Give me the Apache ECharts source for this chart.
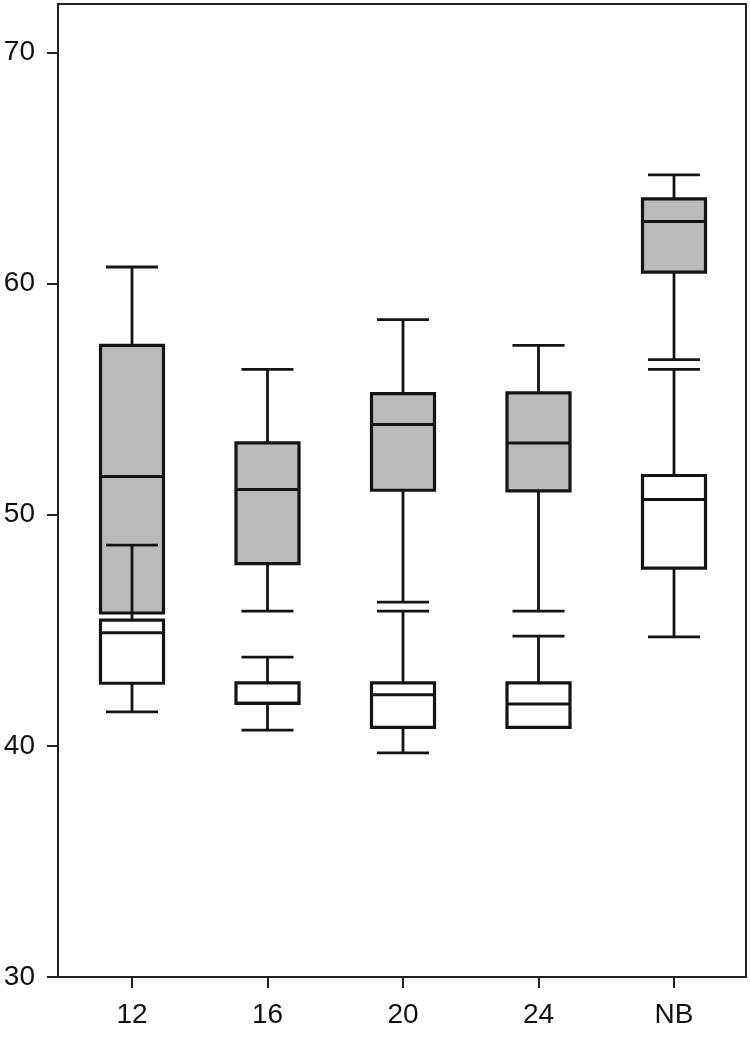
<!DOCTYPE html>
<html>
<head>
<meta charset="utf-8">
<script src="https://cdn.jsdelivr.net/npm/echarts@6/dist/echarts.min.js"></script>
<style>
html,body{margin:0;padding:0;background:#fff;}
#chart{width:750px;height:1063px;}
</style>
</head>
<body>
<div id="chart"></div>
<script>
var categories = ['12', '16', '20', '24', 'NB'];
var yTicks = [30, 40, 50, 60, 70];

// grey (upper) boxes
var greyLow  = [45.75, 45.83, 46.22, 45.83, 56.71];
var greyQ1   = [45.75, 47.89, 51.06, 51.03, 60.50];
var greyMed  = [51.66, 51.09, 53.91, 53.11, 62.69];
var greyQ3   = [57.33, 53.11, 55.24, 55.27, 63.67];
var greyHigh = [60.72, 56.29, 58.44, 57.33, 64.71];

// white (lower) boxes
var whiteLow  = [41.47, 40.68, 39.70, 40.80, 44.72];
var whiteQ1   = [42.71, 41.84, 40.80, 40.80, 47.69];
var whiteMed  = [44.89, 41.84, 42.21, 41.81, 50.66];
var whiteQ3   = [45.44, 42.73, 42.73, 42.73, 51.70];
var whiteHigh = [48.69, 43.84, 45.83, 44.75, 56.29];

function build(low, q1, med, q3, high) {
  return categories.map(function (c, i) {
    return [i, low[i], q1[i], med[i], q3[i], high[i]];
  });
}

var INK = '#141414';
var FONT = 'Liberation Sans';

function makeRender(fill) {
  return function (params, api) {
    var i = api.value(0);
    var band = api.size([1, 0])[0];
    var boxW = band * 0.465;
    var capW = band * 0.384;
    var pLow = api.coord([i, api.value(1)]);
    var pQ1 = api.coord([i, api.value(2)]);
    var pMed = api.coord([i, api.value(3)]);
    var pQ3 = api.coord([i, api.value(4)]);
    var pHigh = api.coord([i, api.value(5)]);
    var x = pMed[0];
    var children = [];
    var wStyle = { stroke: INK, lineWidth: 2.8, lineCap: 'butt' };
    if (api.value(5) > api.value(4)) {
      children.push({ type: 'line', shape: { x1: x, y1: pQ3[1], x2: x, y2: pHigh[1] }, style: wStyle });
      children.push({ type: 'line', shape: { x1: x - capW / 2, y1: pHigh[1], x2: x + capW / 2, y2: pHigh[1] }, style: wStyle });
    }
    if (api.value(1) < api.value(2)) {
      children.push({ type: 'line', shape: { x1: x, y1: pQ1[1], x2: x, y2: pLow[1] }, style: wStyle });
      children.push({ type: 'line', shape: { x1: x - capW / 2, y1: pLow[1], x2: x + capW / 2, y2: pLow[1] }, style: wStyle });
    }
    children.push({
      type: 'rect',
      shape: { x: x - boxW / 2, y: pQ3[1], width: boxW, height: pQ1[1] - pQ3[1] },
      style: { fill: fill, stroke: INK, lineWidth: 3.2 }
    });
    children.push({ type: 'line', shape: { x1: x - boxW / 2, y1: pMed[1], x2: x + boxW / 2, y2: pMed[1] }, style: { stroke: INK, lineWidth: 3 } });
    return { type: 'group', children: children };
  };
}

var chart = echarts.init(document.getElementById('chart'), null, { renderer: 'canvas' });
var yMin = 30, yMax = 72.1;
var gTop = 4, gBottom = 86;

chart.setOption({
  animation: false,
  backgroundColor: '#ffffff',
  grid: [
    { left: 58, right: 4, top: gTop, bottom: gBottom, show: true, borderColor: '#222', borderWidth: 2, backgroundColor: 'transparent' },
    { left: 64.25, right: 8.25, top: gTop, bottom: gBottom }
  ],
  xAxis: [
    { gridIndex: 0, type: 'category', data: categories, axisLine: { show: true, lineStyle: { color: '#222', width: 2 } }, axisTick: { show: false }, axisLabel: { show: false } },
    { gridIndex: 1, type: 'category', data: categories,
      axisLine: { show: false },
      axisTick: { show: true, alignWithLabel: true, length: 11, lineStyle: { color: '#222', width: 2 } },
      axisLabel: { show: true, fontFamily: FONT, fontSize: 28, color: '#111', margin: 24 } }
  ],
  yAxis: [
    { gridIndex: 0, type: 'value', min: yMin, max: yMax, interval: 10,
      axisLine: { show: true, lineStyle: { color: '#222', width: 2 } },
      axisTick: { show: true, length: 11, customValues: yTicks, lineStyle: { color: '#222', width: 2 } },
      axisLabel: { show: true, customValues: yTicks, fontFamily: FONT, fontSize: 28, color: '#111', margin: 23 },
      splitLine: { show: false } },
    { gridIndex: 1, type: 'value', min: yMin, max: yMax, interval: 10, show: false, splitLine: { show: false } }
  ],
  series: [
    { type: 'custom', name: 'grey', xAxisIndex: 1, yAxisIndex: 1, renderItem: makeRender('#bababa'),
      data: build(greyLow, greyQ1, greyMed, greyQ3, greyHigh), encode: { x: 0, y: [1, 2, 3, 4, 5] } },
    { type: 'custom', name: 'white', xAxisIndex: 1, yAxisIndex: 1, renderItem: makeRender('#ffffff'),
      data: build(whiteLow, whiteQ1, whiteMed, whiteQ3, whiteHigh), encode: { x: 0, y: [1, 2, 3, 4, 5] } }
  ]
});
</script>
</body>
</html>
